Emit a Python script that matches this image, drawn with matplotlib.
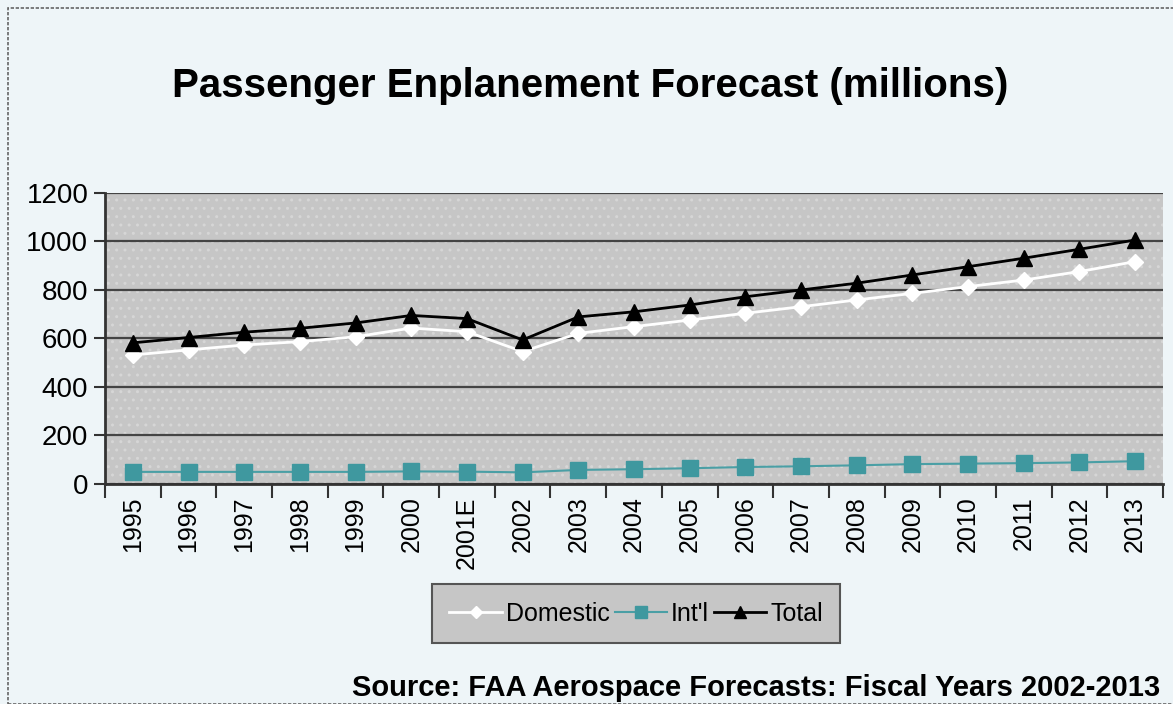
import matplotlib
matplotlib.use("Agg")
import matplotlib.pyplot as plt
import numpy as np
from matplotlib.patches import Rectangle

# data (millions)
years = ["1995", "1996", "1997", "1998", "1999", "2000", "2001E", "2002", "2003", "2004",
         "2005", "2006", "2007", "2008", "2009", "2010", "2011", "2012", "2013"]
domestic = [532, 553, 573, 587, 607, 643, 628, 546, 621, 649,
            676, 704, 731, 759, 786, 814, 841, 876, 917]
intl = [50, 50, 50, 50, 50, 52, 51, 48, 58, 61,
        65, 70, 73, 77, 82, 84, 86, 89, 94]
total = [582, 604, 626, 642, 664, 695, 682, 594, 689, 710,
         738, 772, 800, 828, 862, 896, 931, 968, 1006]
yticks = [0, 200, 400, 600, 800, 1000, 1200]

font = ["Liberation Sans", "DejaVu Sans"]
plt.rcParams["font.family"] = font

fig = plt.figure(figsize=(11.73, 7.04), dpi=100)
fig.patch.set_facecolor("#eef5f8")
fig.patches.append(Rectangle((0.007, 0.0), 1.2, 0.988, transform=fig.transFigure,
                             fill=False, edgecolor="#666666", linewidth=1.2, linestyle=(0, (2, 1))))

ax = fig.add_axes([0.0895, 0.3125, 0.902, 0.4134])
ax.set_facecolor("#c6c6c6")
# light dotted texture like the original plot area
ax.add_patch(Rectangle((0, 0), 1, 1, transform=ax.transAxes, fill=False, hatch="..",
                       edgecolor="#d6d6d6", linewidth=0, zorder=0))
x = np.arange(len(years))

ax.plot(x, domestic, color="white", marker="D", markersize=8, linewidth=2,
        label="Domestic", zorder=3)
ax.plot(x, intl, color="#4a9fa5", marker="s", markersize=11, linewidth=1.5,
        markerfacecolor="#3f989f", markeredgecolor="#3f989f", label="Int'l", zorder=3)
ax.plot(x, total, color="black", marker="^", markersize=12, linewidth=2,
        label="Total", zorder=4)

ax.set_xlim(-0.5, len(years) - 0.5)
ax.set_ylim(0, 1200)
ax.set_yticks(yticks)
ax.set_yticklabels([str(v) for v in yticks], fontsize=20)
ax.grid(axis="y", color="#444444", linewidth=1.6)
ax.set_axisbelow(True)

ax.set_xticks(x)
ax.set_xticklabels(years, rotation=90, fontsize=18)
ax.set_xticks(np.arange(-0.5, len(years)), minor=True)
ax.tick_params(axis="x", which="major", length=0, pad=9)
ax.tick_params(axis="x", which="minor", length=10, width=1.5, color="#333333")
ax.tick_params(axis="y", length=8, width=1.5, color="#333333", pad=4)

for side in ["top", "right"]:
    ax.spines[side].set_visible(False)
ax.spines["left"].set_linewidth(2)
ax.spines["left"].set_color("#333333")
ax.spines["bottom"].set_linewidth(2)
ax.spines["bottom"].set_color("#333333")

fig.text(0.503, 0.878, "Passenger Enplanement Forecast (millions)", ha="center", va="center",
         fontsize=29, fontweight="bold")

leg = ax.legend(loc="upper center", bbox_to_anchor=(0.502, -0.37), ncol=3, frameon=True,
                prop={"size": 18}, handlelength=2.1, markerscale=0.75,
                handletextpad=0.15, columnspacing=0.2, borderpad=0.4, borderaxespad=0)
leg.get_frame().set_facecolor("#c6c6c6")
leg.get_frame().set_edgecolor("#555555")
leg.get_frame().set_linewidth(1.5)
leg.get_frame().set_alpha(1)
leg.get_frame().set_boxstyle("square")

fig.text(0.989, 0.023, "Source: FAA Aerospace Forecasts: Fiscal Years 2002-2013", ha="right",
         va="center", fontsize=21, fontweight="bold")

fig.savefig("out.png", dpi=100, facecolor=fig.get_facecolor())
